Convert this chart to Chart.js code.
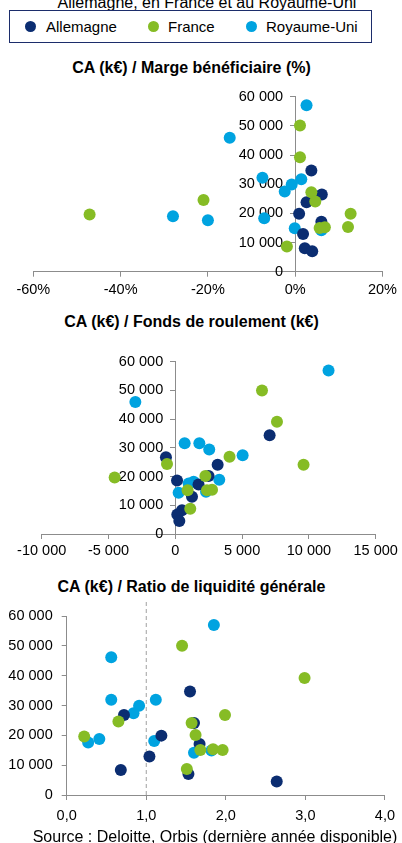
<!DOCTYPE html>
<html lang="fr">
<head>
<meta charset="utf-8">
<script src="https://cdn.jsdelivr.net/npm/chart.js@4.4.1/dist/chart.umd.min.js"></script>
<style>
  html, body { margin: 0; padding: 0; background: #fff; }
  body { width: 402px; height: 843px; position: relative; overflow: hidden; font-family: "Liberation Sans", Arial, sans-serif; color: #000; }
  .abs { position: absolute; }
  .title { position: absolute; left: 0; width: 383px; text-align: center; font-weight: bold; font-size: 16px; line-height: 18px; white-space: nowrap; }
  .legend { position: absolute; left: 9px; top: 10px; width: 361px; height: 31px; border: 1.5px solid #1c2d6b; }
  .li { position: absolute; top: 0; height: 31px; line-height: 31px; font-size: 15px; white-space: nowrap; }
  .dot { position: absolute; width: 11px; height: 11px; border-radius: 50%; top: 10px; }
  canvas { position: absolute; }
</style>
</head>
<body>
<div class="abs" style="left:0;width:414px;text-align:center;top:-5px;font-size:16px;line-height:16px;white-space:nowrap;">Allemagne, en France et au Royaume-Uni</div>

<div class="legend">
  <div class="dot" style="left:15px;background:#0b2d71"></div>
  <div class="li" style="left:36px">Allemagne</div>
  <div class="dot" style="left:138px;background:#86bc25"></div>
  <div class="li" style="left:158px">France</div>
  <div class="dot" style="left:236px;background:#00a3e0"></div>
  <div class="li" style="left:256px">Royaume-Uni</div>
</div>

<div class="title" style="top:59px">CA (k€) / Marge bénéficiaire (%)</div>
<div class="title" style="top:313px">CA (k€) / Fonds de roulement (k€)</div>
<div class="title" style="top:578px">CA (k€) / Ratio de liquidité générale</div>

<canvas id="c1" width="402" height="215" style="left:0;top:80px"></canvas>
<canvas id="c2" width="402" height="220" style="left:0;top:345px"></canvas>
<canvas id="c3" width="402" height="232" style="left:0;top:598px"></canvas>

<div class="abs" style="left:0;width:430px;text-align:center;top:827px;font-size:16px;line-height:19px;white-space:nowrap;">Source : Deloitte, Orbis (dernière année disponible)</div>

<script>
// ---- Data ----
const seriesNames = ["Allemagne", "France", "Royaume-Uni"];

// Chart 1 : CA (k€) vs marge bénéficiaire (%)
const margeAllemagne = [[3.7,34700],[6.1,26500],[2.6,23800],[0.9,19900],[6.0,17100],[1.8,12900],[2.2,8000],[3.9,7000]];
const margeFrance = [[1.1,50100],[1.1,39200],[3.7,27200],[4.6,24100],[-21,24600],[-47.1,19600],[12.7,19900],[12.1,15300],[6.8,15200],[5.6,15000],[-1.9,8600]];
const margeRoyaumeUni = [[2.6,57100],[-15,45900],[-7.5,32200],[1.4,31700],[-0.8,29900],[-2.4,27500],[-28,19000],[-20,17600],[-7.1,18300],[6.0,14200],[-0.1,14900]];

// Chart 2 : CA (k€) vs fonds de roulement (k€)
const fdrAllemagne = [[7060,34400],[-700,26700],[3170,24100],[2490,20200],[130,18600],[1740,17200],[1250,13000],[500,8300],[150,6800],[300,4500]];
const fdrFrance = [[6490,50000],[7610,39100],[4060,26900],[-620,24400],[9600,24100],[-4540,19700],[2250,20200],[920,15200],[2370,15200],[2750,15400],[1120,8800]];
const fdrRoyaumeUni = [[11470,56900],[-2990,46000],[700,31600],[1800,31600],[2540,29400],[5040,27400],[3290,18900],[1370,18200],[1000,17600],[250,14400],[2300,14700]];

// Chart 3 : CA (k€) vs ratio de liquidité générale
const liqAllemagne = [[1.55,34700],[0.72,26800],[1.60,24100],[1.19,19900],[1.67,17100],[1.04,12900],[0.68,8400],[1.53,7000],[2.64,4500]];
const liqFrance = [[1.45,50000],[2.99,39200],[0.65,24600],[1.99,26800],[1.57,24100],[1.62,20100],[0.22,19600],[1.68,15100],[1.84,15300],[1.96,15100],[1.51,8700]];
const liqRoyaumeUni = [[1.85,57000],[0.56,46200],[0.56,31900],[1.12,31900],[0.91,29900],[0.84,27400],[1.10,18100],[0.27,17600],[0.41,18800],[1.60,14200],[1.82,14900]];
const liqReference = [[1,0],[1,65000]];

// ---- Styles ----
const NAVY = "#0b2d71", GREEN = "#86bc25", CYAN = "#00a3e0", AXIS = "#8c8c8c";
const TICK_FONT = { family: "'Liberation Sans', Arial, sans-serif", size: 14.5 };

function pts(arr) { return arr.map(p => ({ x: p[0], y: p[1] })); }
function thousands(v) { const s = String(Math.abs(v)).replace(/\B(?=(\d{3})+(?!\d))/g, " "); return (v < 0 ? "-" : "") + s; }
// labels of an axis placed at x = 0 are drawn flush to the axis: pad with spaces
function thousandsPadded(v) { return thousands(v) + "   "; }

function ds(name, data, color, order) {
  return { label: name, data: pts(data), backgroundColor: color, borderWidth: 0,
           pointRadius: 6, pointHoverRadius: 6, order: order };
}

function axisCommon(extra) {
  return Object.assign({
    grid: { drawOnChartArea: false, drawTicks: true, tickLength: 5, color: AXIS, lineWidth: 1 },
    border: { display: true, color: AXIS, width: 1 },
  }, extra);
}

Chart.defaults.animation = false;

// Chart 1
new Chart(document.getElementById("c1"), {
  type: "scatter",
  data: { datasets: [
    ds(seriesNames[0], margeAllemagne, NAVY, 1),
    ds(seriesNames[1], margeFrance, GREEN, 0),
    ds(seriesNames[2], margeRoyaumeUni, CYAN, 2),
  ]},
  options: {
    responsive: false, animation: false,
    layout: { padding: { left: 33.3, right: 18, top: 13.3, bottom: 0 } },
    plugins: { legend: { display: false }, tooltip: { enabled: false } },
    scales: {
      x: axisCommon({ type: "linear", position: "bottom", min: -60, max: 20,
        ticks: { stepSize: 20, font: TICK_FONT, color: "#000", padding: 5, maxRotation: 0, callback: v => v + "%" },
        afterFit: s => { s.height = 23.3; } }),
      y: axisCommon({ type: "linear", position: { x: 0 }, min: 0, max: 60000,
        ticks: { stepSize: 10000, font: TICK_FONT, color: "#000", padding: 8, callback: v => thousandsPadded(v) } }),
    }
  }
});

// Chart 2
new Chart(document.getElementById("c2"), {
  type: "scatter",
  data: { datasets: [
    ds(seriesNames[0], fdrAllemagne, NAVY, 1),
    ds(seriesNames[1], fdrFrance, GREEN, 0),
    ds(seriesNames[2], fdrRoyaumeUni, CYAN, 2),
  ]},
  options: {
    responsive: false, animation: false,
    layout: { padding: { left: 41.7, right: 26.3, top: 9, bottom: 0 } },
    plugins: { legend: { display: false }, tooltip: { enabled: false } },
    scales: {
      x: axisCommon({ type: "linear", position: "bottom", min: -10000, max: 15000,
        ticks: { stepSize: 5000, font: TICK_FONT, color: "#000", padding: 3, maxRotation: 0, callback: v => thousands(v) },
        afterFit: s => { s.height = 31; } }),
      y: axisCommon({ type: "linear", position: { x: 0 }, min: 0, max: 60000,
        ticks: { stepSize: 10000, font: TICK_FONT, color: "#000", padding: 8, callback: v => thousandsPadded(v) } }),
    }
  }
});

// Chart 3
new Chart(document.getElementById("c3"), {
  type: "scatter",
  data: { datasets: [
    ds(seriesNames[0], liqAllemagne, NAVY, 1),
    ds(seriesNames[1], liqFrance, GREEN, 0),
    ds(seriesNames[2], liqRoyaumeUni, CYAN, 2),
    { type: "line", label: "ref", data: pts(liqReference), borderColor: "#a0a0a0", borderWidth: 1,
      borderDash: [4, 3], pointRadius: 0, clip: false, order: 3 },
  ]},
  options: {
    responsive: false, animation: false,
    layout: { padding: { left: 0, right: 13.7, top: 18, bottom: 0 } },
    plugins: { legend: { display: false }, tooltip: { enabled: false } },
    scales: {
      x: axisCommon({ type: "linear", position: "bottom", min: 0, max: 4,
        ticks: { stepSize: 1, font: TICK_FONT, color: "#000", padding: 7, maxRotation: 0, callback: v => v.toFixed(1).replace(".", ",") },
        afterFit: s => { s.height = 35; } }),
      y: axisCommon({ type: "linear", position: "left", min: 0, max: 60000,
        ticks: { stepSize: 10000, font: TICK_FONT, color: "#000", padding: 9, callback: v => thousands(v) },
        afterFit: s => { s.width = 66.7; } }),
    }
  }
});
</script>
</body>
</html>
